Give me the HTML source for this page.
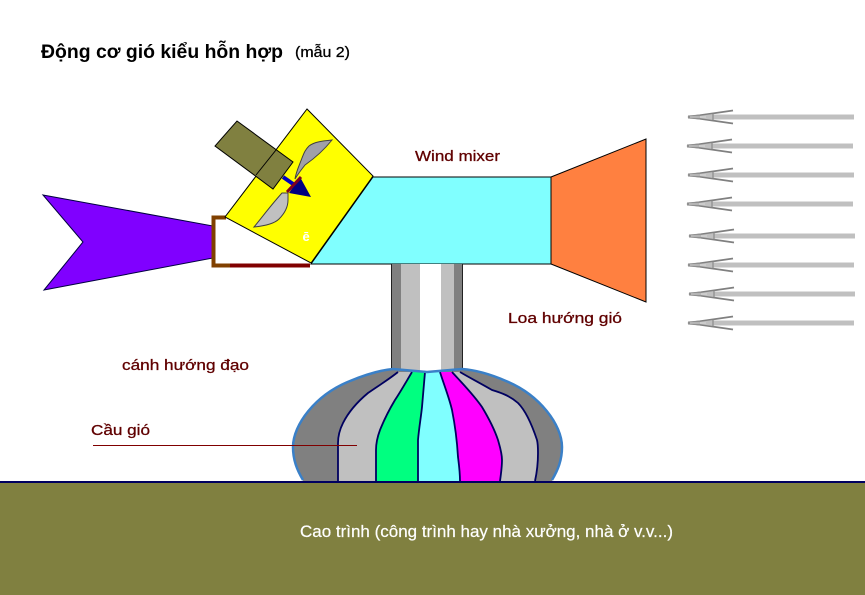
<!DOCTYPE html>
<html><head><meta charset="utf-8">
<style>
html,body{margin:0;padding:0;background:#fff}
svg{display:block}
text{font-family:"Liberation Sans",sans-serif}
</style></head><body>
<svg width="865" height="595" viewBox="0 0 865 595" xmlns="http://www.w3.org/2000/svg">
<defs>
<g id="arr">
<path d="M705 0H854" stroke="#c0c0c0" stroke-width="5" fill="none"/>
<path d="M688 0L733 -6.500M688 0L733 6.500" stroke="#808080" stroke-width="1.800" fill="none"/>
<path d="M688 0L713 -3.500V3.500Z" fill="#c0c0c0" stroke="#808080" stroke-width="1"/>
<path d="M688 -1.500L700 -2.500V2.500L688 1.500Z" fill="#909090"/>
<path d="M690 0H706" stroke="#d8d8d8" stroke-width="1"/>
</g>
</defs>
<rect width="865" height="595" fill="#fff"/>
<!-- ground -->
<rect x="0" y="482" width="865" height="113" fill="#808040"/>
<!-- wind arrows -->
<use href="#arr" transform="translate(0,117)"/>
<use href="#arr" transform="translate(-1,146)"/>
<use href="#arr" transform="translate(0,175)"/>
<use href="#arr" transform="translate(-1,204)"/>
<use href="#arr" transform="translate(1,236)"/>
<use href="#arr" transform="translate(0,265)"/>
<use href="#arr" transform="translate(1,294)"/>
<use href="#arr" transform="translate(0,323)"/>
<!-- horn -->
<polygon points="551,177 646,139 646,302 551,264" fill="#ff8040" stroke="#000" stroke-width="1"/>
<!-- mixer body -->
<polygon points="373,177 551,177 551,264 311,264" fill="#80ffff" stroke="#000" stroke-width="1"/>
<!-- tail -->
<polygon points="43,195 213,226 213,258 44,290 83,242" fill="#8000ff" stroke="#000040" stroke-width="1"/>
<!-- vane bracket -->
<polygon points="215,218 225,218 311,264 215,265" fill="#fff"/>
<path d="M226,217.500H213.500V265.500H230" fill="none" stroke="#804000" stroke-width="4"/>
<path d="M230,265.500H310" fill="none" stroke="#800000" stroke-width="4"/>
<!-- tower -->
<rect x="392" y="264" width="70" height="107" fill="#fff"/>
<rect x="392" y="264" width="9" height="107" fill="#808080"/>
<rect x="401" y="264" width="19" height="107" fill="#c0c0c0"/>
<rect x="441" y="264" width="13" height="107" fill="#c0c0c0"/>
<rect x="454" y="264" width="8" height="107" fill="#808080"/>
<path d="M391.500,264V371M462.500,264V371" stroke="#222" stroke-width="1"/>
<!-- dome -->
<path d="M303,481C297,470 293,460 293,447C293,425 315,395 350,381C367,374 382,370 393,369L427,372L462,369C475,370 490,374 506,381C540,395 562,425 562,447C562,460 558,470 552,481Z" fill="#808080"/>
<path d="M398,372C388,380 378,386 368,393C356,403 348,413 343,423C339,431 338,437 338,443V481H535C537,472 538,462 538,453C538,448 538,444 537,440C532,425 526,411 518,403C510,396 502,393 492,390C480,383 470,378 460,372Z" fill="#c0c0c0"/>
<path d="M412,372C406,382 401,391 395,400C389,410 384,420 380,430C377,438 376,444 376,450V481H418C418,465 418,452 418,440C419,428 421,417 422,407C423,395 424,383 425,372Z" fill="#00ff80"/>
<path d="M425,372C424,383 423,395 422,407C421,417 419,428 418,440V481H460C460,472 459,465 458,457C457,440 455,425 452,410C449,397 444,385 440,372Z" fill="#80ffff"/>
<path d="M440,372C444,385 449,397 452,410C455,425 457,440 458,457C459,465 460,472 460,481H500C501,474 502,467 502,460C502,453 500,447 498,440C494,428 488,417 482,407C473,394 462,383 452,372Z" fill="#ff00ff"/>
<g fill="none" stroke="#000060" stroke-width="1.800">
<path d="M398,372C388,380 378,386 368,393C356,403 348,413 343,423C339,431 338,437 338,443V481"/>
<path d="M412,372C406,382 401,391 395,400C389,410 384,420 380,430C377,438 376,444 376,450V481"/>
<path d="M425,372C424,383 423,395 422,407C421,417 419,428 418,440V481"/>
<path d="M440,372C444,385 449,397 452,410C455,425 457,440 458,457C459,465 460,472 460,481"/>
<path d="M452,372C462,383 473,394 482,407C488,417 494,428 498,440C500,447 502,453 502,460C502,467 501,474 500,481"/>
<path d="M460,372C470,378 480,383 492,390C502,393 510,396 518,403C526,411 532,425 537,440C538,444 538,448 538,453C538,462 537,472 535,481"/>
</g>
<path d="M303,480C297,470 293,460 293,447C293,425 315,395 350,381C367,374 382,370 393,369L427,372L462,369C475,370 490,374 506,381C540,395 562,425 562,447C562,460 558,470 552,480" fill="none" stroke="#3a80c8" stroke-width="2.500"/>
<rect x="0" y="481" width="865" height="2" fill="#000060"/>
<!-- pointer line -->
<line x1="93" y1="445.500" x2="357" y2="445.500" stroke="#800000" stroke-width="1"/>
<!-- yellow rotor housing -->
<polygon points="307,109 373,176 311,263 225,217" fill="#ffff00" stroke="#000" stroke-width="1"/>
<!-- generator -->
<polygon points="237,121 293,162 273,189 215,146" fill="#808040" stroke="#000" stroke-width="1"/>
<line x1="276" y1="150" x2="256" y2="175" stroke="#000" stroke-width="1"/>
<!-- shaft -->
<line x1="283" y1="177" x2="296" y2="186" stroke="#0000c0" stroke-width="4"/>
<!-- nose -->
<polygon points="300,177 311,197 289,193" fill="#000080"/>
<!-- blades -->
<path d="M332,140C322,141 314,142 309,146C305,150 304,153 302,158C299,166 296,172 295,179C298,174 301,170 305,165C315,158 324,150 332,140Z" fill="#a0a0a8" stroke="#404040" stroke-width="1"/>
<path d="M282,193C272,204 263,216 254,227C264,226 274,224 279,219C285,213 288,207 288,200L288,193Z" fill="#c0c0c0" stroke="#404040" stroke-width="1"/>
<line x1="301" y1="177" x2="287" y2="192" stroke="#800020" stroke-width="3"/>
<!-- small white mark -->
<text x="302.500" y="241" font-size="13" font-weight="bold" fill="#fff">ē</text>
<!-- labels -->
<text x="41" y="58" font-size="19" font-weight="bold" fill="#000" textLength="242" lengthAdjust="spacingAndGlyphs">Động cơ gió kiểu hỗn hợp</text>
<text x="295" y="57" font-size="15" fill="#000" stroke="#000" stroke-width="0.300" textLength="55" lengthAdjust="spacingAndGlyphs">(mẫu 2)</text>
<text x="415" y="161" font-size="15" fill="#600000" stroke="#600000" stroke-width="0.300" textLength="85" lengthAdjust="spacingAndGlyphs">Wind mixer</text>
<text x="508" y="323" font-size="15" fill="#600000" stroke="#600000" stroke-width="0.300" textLength="114" lengthAdjust="spacingAndGlyphs">Loa hướng gió</text>
<text x="122" y="370" font-size="15" fill="#600000" stroke="#600000" stroke-width="0.300" textLength="127" lengthAdjust="spacingAndGlyphs">cánh hướng đạo</text>
<text x="91" y="435" font-size="15" fill="#600000" stroke="#600000" stroke-width="0.300" textLength="59" lengthAdjust="spacingAndGlyphs">Cầu gió</text>
<text x="300" y="537" font-size="16.500" fill="#fff" stroke="#fff" stroke-width="0.200" textLength="373" lengthAdjust="spacingAndGlyphs">Cao trình (công trình hay nhà xưởng, nhà ở v.v...)</text>
</svg>
</body></html>
